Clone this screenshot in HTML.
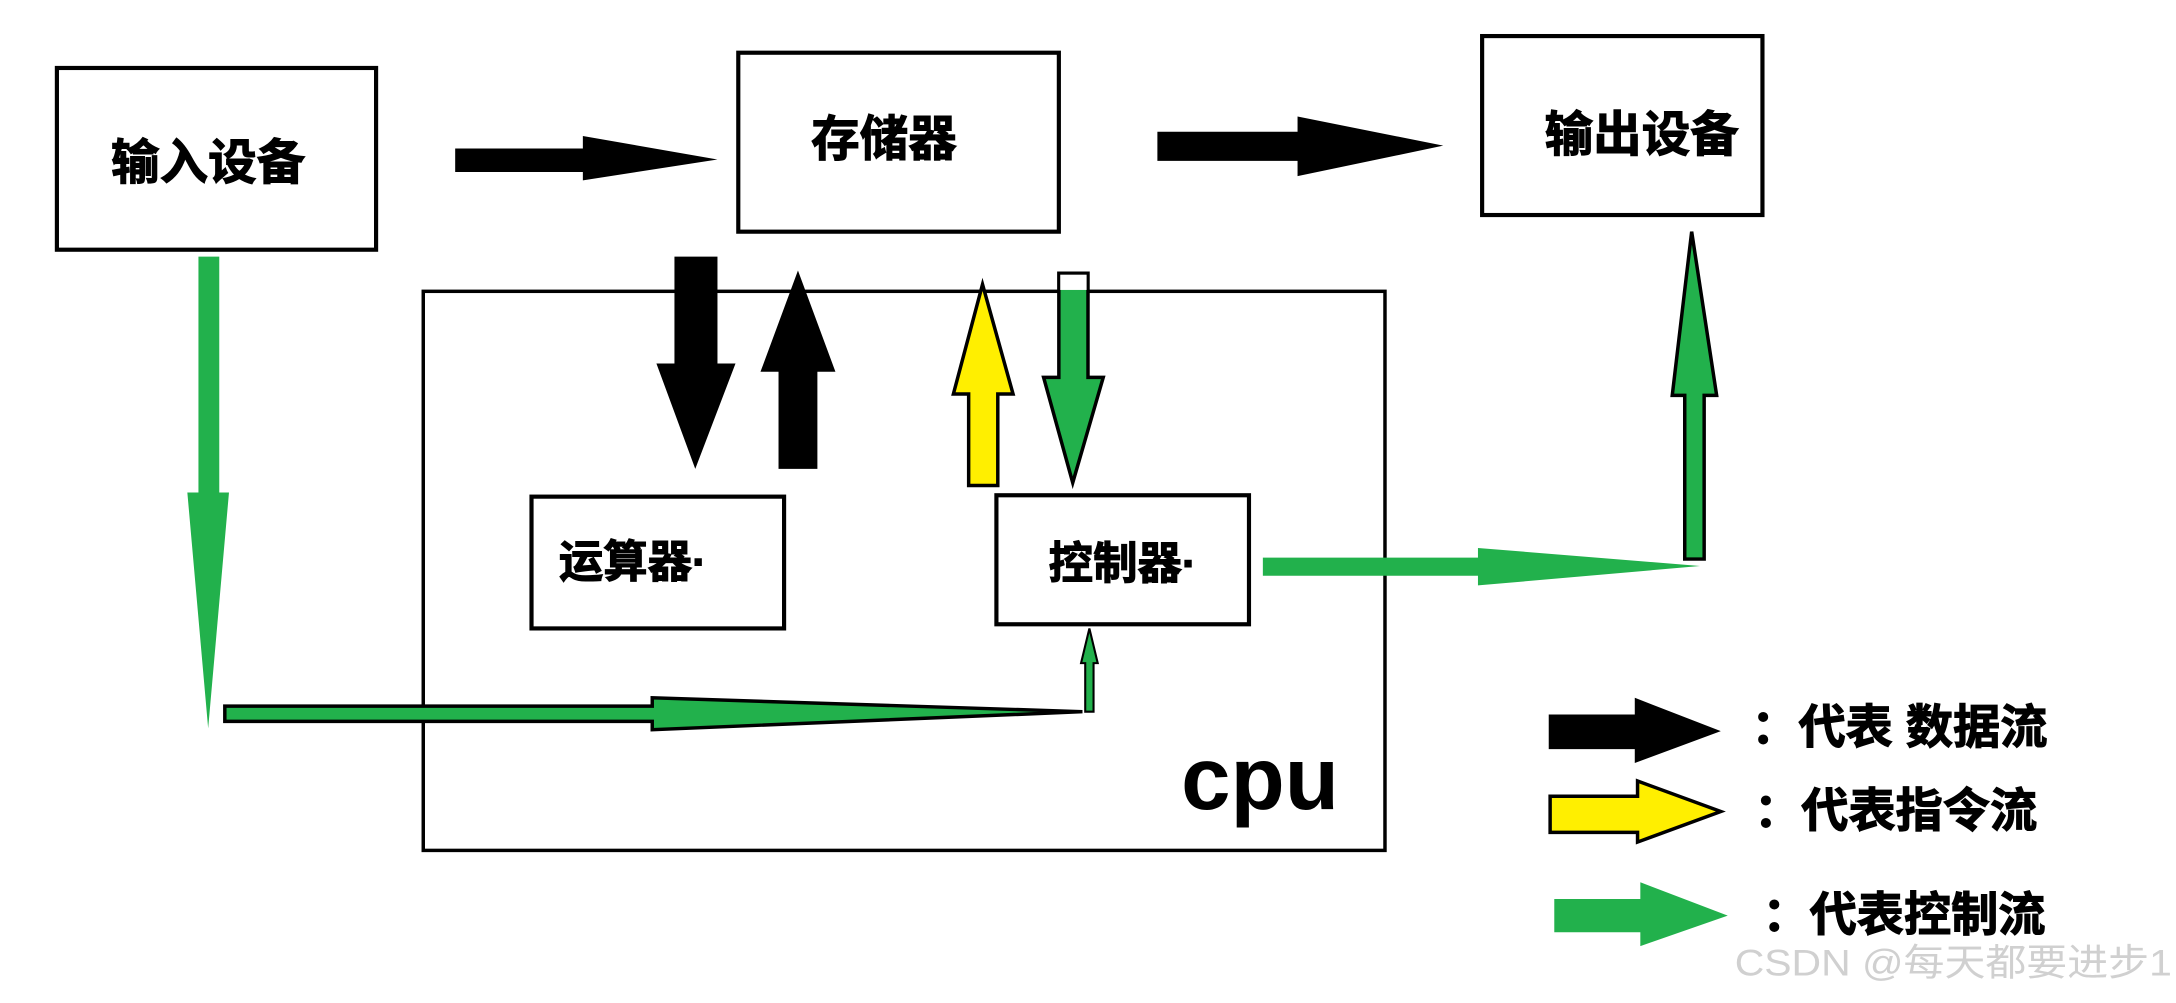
<!DOCTYPE html>
<html><head><meta charset="utf-8"><style>
html,body{margin:0;padding:0;background:#fff;width:2176px;height:1003px;overflow:hidden}
svg{display:block}
text{font-family:"Liberation Sans","Noto Sans CJK SC",sans-serif;font-weight:bold;fill:#000}
.b{stroke:#000;stroke-width:0.8}
</style></head><body>
<svg width="2176" height="1003" viewBox="0 0 1568 723" preserveAspectRatio="none" xmlns="http://www.w3.org/2000/svg">
<rect width="1568" height="723" fill="#fff"/>
<g fill="none" stroke="#000" stroke-width="3">
<rect x="41" y="49" width="230" height="131"/>
<rect x="532" y="38" width="231" height="129"/>
<rect x="1068" y="26" width="202" height="129"/>
<rect x="305" y="210" width="693" height="403" stroke-width="2.5"/>
<rect x="383" y="358" width="182" height="95"/>
<rect x="718" y="357" width="182" height="93"/>
</g>
<text class="b" x="150" y="129" font-size="35" text-anchor="middle">输入设备</text>
<text class="b" x="637" y="112" font-size="35" text-anchor="middle">存储器</text>
<text class="b" x="1183" y="109" font-size="35" text-anchor="middle">输出设备</text>
<text class="b" x="456" y="416" font-size="32" text-anchor="middle">运算器·</text>
<text class="b" x="809" y="417" font-size="32" text-anchor="middle">控制器·</text>
<text x="908" y="583" font-size="64" text-anchor="middle" font-family="Liberation Sans,sans-serif">cpu</text>
<polygon points="328,107 420,107 420,98 517,115 420,130 420,124 328,124" fill="#000"/>
<polygon points="834,95 935,95 935,84 1040,105 935,127 935,116 834,116" fill="#000"/>
<polygon points="486,185 517,185 517,262 530,262 501,338 473,262 486,262" fill="#000"/>
<polygon points="561,338 589,338 589,268 602,268 575,195 548,268 561,268" fill="#000"/>
<polygon points="698,350 719,350 719,284 730,284 708,205 687,284 698,284" fill="#ffef00" stroke="#000" stroke-width="2.5"/>
<polygon points="763,197 784,197 784,272 795,272 773,348 752,272 763,272" fill="#22b14c" stroke="#000" stroke-width="2.5"/>
<rect x="764" y="198" width="19" height="11" fill="#fff"/>
<polygon points="143,185 158,185 158,355 165,355 150,525 135,355 143,355" fill="#22b14c"/>
<polygon points="162,509 470,509 470,503 780,513 470,526 470,520 162,520" fill="#22b14c" stroke="#000" stroke-width="2.5"/>
<polygon points="782,513 788,513 788,478 791,478 785,453 779,478 782,478" fill="#22b14c" stroke="#000" stroke-width="1.5"/>
<polygon points="910,402 1065,402 1065,395 1225,408 1065,422 1065,415 910,415" fill="#22b14c"/>
<polygon points="1214,403 1228,403 1228,285 1237,285 1219,167 1205,285 1214,285" fill="#22b14c" stroke="#000" stroke-width="2.5"/>
<polygon points="1116,515 1178,515 1178,503 1240,527 1178,550 1178,540 1116,540" fill="#000"/>
<polygon points="1117,574 1180,574 1180,563 1240,585 1180,607 1180,600 1117,600" fill="#ffef00" stroke="#000" stroke-width="2.5"/>
<polygon points="1120,648 1182,648 1182,636 1245,660 1182,682 1182,672 1120,672" fill="#22b14c"/>
<text class="b" x="1262" y="536" font-size="34">：代表 数据流</text>
<text class="b" x="1264" y="596" font-size="34">：代表指令流</text>
<text class="b" x="1270" y="671" font-size="34">：代表控制流</text>
<text x="1250" y="703" font-size="27" textLength="315" lengthAdjust="spacingAndGlyphs" style="font-weight:normal;fill:#d0d0d0">CSDN @每天都要进步1</text>
</svg>
</body></html>
